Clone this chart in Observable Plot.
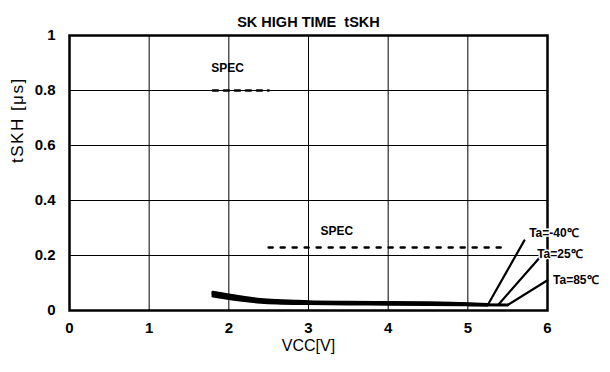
<!DOCTYPE html>
<html>
<head>
<meta charset="utf-8">
<script src="https://cdn.jsdelivr.net/npm/d3@7"></script>
<script src="https://cdn.jsdelivr.net/npm/@observablehq/plot@0.6"></script>
<style>
  body { margin: 0; background: #fff; }
  #chart svg { font-family: "Liberation Sans", Arial, sans-serif; }
</style>
</head>
<body>
<div id="chart"></div>
<script>
// Data
const xTicks = [0, 1, 2, 3, 4, 5, 6];
const yTicks = [0, 0.2, 0.4, 0.6, 0.8, 1];

const vcc = [1.8, 2.0, 2.2, 2.4, 2.6, 3.0, 3.5, 4.0, 4.5, 5.0, 5.25];
const tM40 = [0.066, 0.056, 0.047, 0.040, 0.036, 0.032, 0.030, 0.029, 0.028, 0.025, 0.022];
const t25  = [0.060, 0.050, 0.042, 0.035, 0.031, 0.028, 0.027, 0.026, 0.025, 0.023, 0.021];
const t85  = [0.053, 0.044, 0.036, 0.030, 0.027, 0.025, 0.024, 0.023, 0.022, 0.021, 0.020];

// leader lines from curve end to temperature labels
const leaderM40 = [[5.25, 0.020], [5.71, 0.255]];
const leader25  = [[5.38, 0.020], [5.90, 0.192]];
const leader85  = [[5.50, 0.020], [6.00, 0.110]];
const flatEnd = [[5.0, 0.021], [5.5, 0.020]];

const specHiX = [1.8, 2.5], specHiY = 0.8;
const specLoX = [2.5, 5.42], specLoY = 0.229;

const specLabels = [
  {x: 1.78, y: 0.88, text: "SPEC"},
  {x: 3.15, y: 0.287, text: "SPEC"}
];
const tempLabels = [
  {x: 5.77, y: 0.28, text: "Ta=-40℃"},
  {x: 5.87, y: 0.205, text: "Ta=25℃"},
  {x: 6.07, y: 0.11, text: "Ta=85℃"}
];

const series = [
  {name: "-40", v: tM40},
  {name: "25", v: t25},
  {name: "85", v: t85}
];
const curveRows = series.flatMap(s => vcc.map((x, i) => ({x, y: s.v[i], s: s.name})));
const leaderRows = [["-40", leaderM40], ["25", leader25], ["85", leader85]]
  .flatMap(([s, pts]) => pts.map(([x, y]) => ({x, y, s})));

const chart = Plot.plot({
  width: 610,
  height: 372,
  marginLeft: 69,
  marginRight: 63,
  marginTop: 35,
  marginBottom: 62,
  style: {fontFamily: "'Liberation Sans', Arial, sans-serif", background: "#fff", overflow: "visible"},
  x: {domain: [0, 6], ticks: xTicks, tickFormat: d => String(d), label: null},
  y: {domain: [0, 1], ticks: yTicks, tickFormat: d => String(d), label: null},
  marks: [
    Plot.gridX(xTicks, {stroke: "#000", strokeOpacity: 1, strokeWidth: 1}),
    Plot.gridY(yTicks, {stroke: "#000", strokeOpacity: 1, strokeWidth: 1.2}),
    Plot.frame({stroke: "#000", strokeWidth: 2.5}),
    Plot.axisX(xTicks, {tickSize: 0, tickPadding: 12, fontSize: 15, fontWeight: "bold", tickFormat: d => String(d)}),
    Plot.axisY(yTicks, {tickSize: 0, tickPadding: 14, fontSize: 15, fontWeight: "bold", tickFormat: d => String(d)}),
    Plot.line(specHiX.map(x => ({x, y: specHiY})), {x: "x", y: "y", stroke: "#000", strokeWidth: 2.5, strokeDasharray: "5,6"}),
    Plot.line(specLoX.map(x => ({x, y: specLoY})), {x: "x", y: "y", stroke: "#000", strokeWidth: 2.5, strokeDasharray: "4,8"}),
    Plot.line(curveRows, {x: "x", y: "y", z: "s", stroke: "#000", strokeWidth: 3, curve: "monotone-x"}),
    Plot.line(flatEnd.map(([x, y]) => ({x, y})), {x: "x", y: "y", stroke: "#000", strokeWidth: 3}),
    Plot.line(leaderRows, {x: "x", y: "y", z: "s", stroke: "#000", strokeWidth: 2.2}),
    Plot.text(specLabels, {x: "x", y: "y", text: "text", textAnchor: "start", fontSize: 12, fontWeight: "bold", fill: "#000"}),
    Plot.text(tempLabels, {x: "x", y: "y", text: "text", textAnchor: "start", fontSize: 12, fontWeight: "bold", fill: "#000", stroke: "#fff", strokeWidth: 3, paintOrder: "stroke"}),
    Plot.text(["SK HIGH TIME  tSKH"], {frameAnchor: "top", dy: -19, fontSize: 14.5, fontWeight: "bold", fill: "#000"}),
    Plot.text(["VCC[V]"], {frameAnchor: "bottom", dy: 40, fontSize: 16, fill: "#000"}),
    Plot.text(["tSKH [μs]"], {frameAnchor: "left", dx: -52, dy: -10, rotate: -90, fontSize: 17, fill: "#000"})
  ]
});
d3.select(chart).selectAll("text").filter(function() { return this.textContent === "tSKH [μs]"; })
  .attr("letter-spacing", "1.5px");
document.getElementById("chart").appendChild(chart);
</script>
</body>
</html>
